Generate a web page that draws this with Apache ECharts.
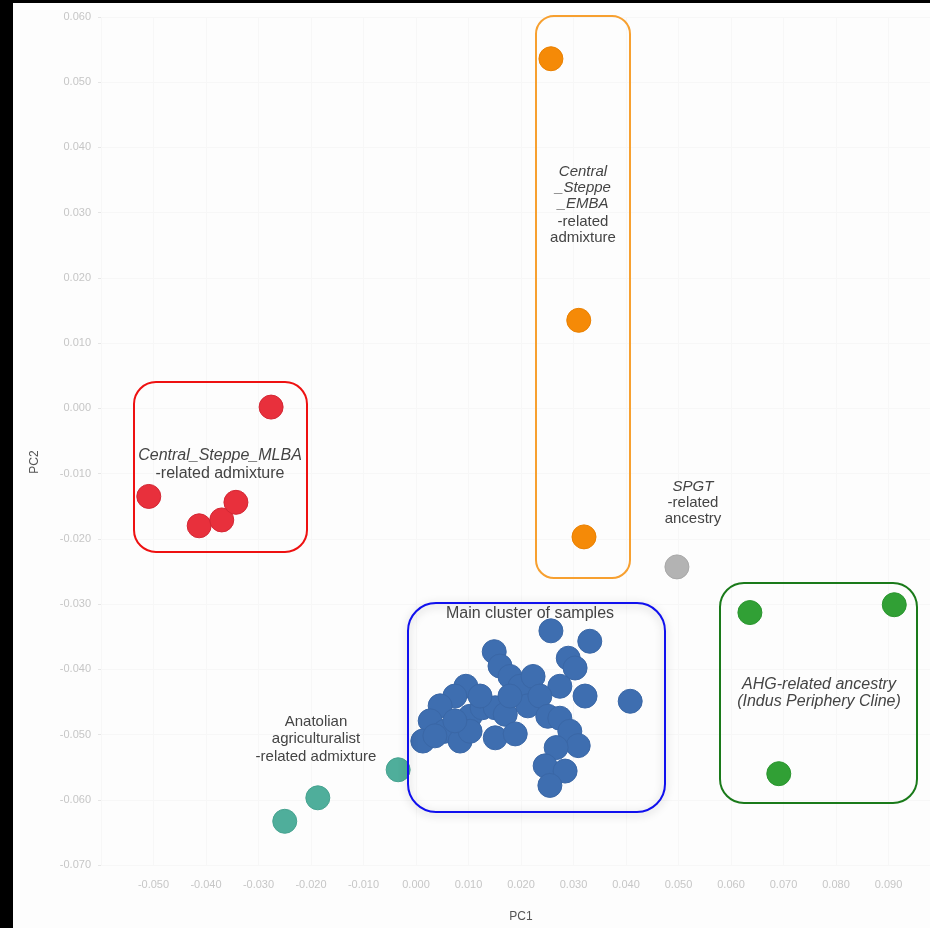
<!DOCTYPE html>
<html>
<head>
<meta charset="utf-8">
<script src="https://cdn.jsdelivr.net/npm/echarts@6/dist/echarts.min.js"></script>
<style>
  html, body { margin: 0; padding: 0; background: #000; overflow: hidden; width: 930px; height: 928px; }
  #chart { position: absolute; left: 13px; top: 3px; width: 960px; height: 925px; background: #fdfdfd; }
</style>
</head>
<body>
<div id="chart"></div>
<script>
// PCA coordinates [PC1, PC2] for each group of samples
const mainCluster = [
  [0.0257, -0.0341], [0.0331, -0.0357], [0.0149, -0.0373], [0.0160, -0.0395],
  [0.0179, -0.0411], [0.0198, -0.0426], [0.0223, -0.0411], [0.0290, -0.0383],
  [0.0303, -0.0398], [0.0274, -0.0426], [0.0322, -0.0441], [0.0408, -0.0449],
  [0.0095, -0.0426], [0.0074, -0.0441], [0.0046, -0.0456], [0.0027, -0.0479],
  [0.0013, -0.0510], [0.0055, -0.0495], [0.0084, -0.0510], [0.0103, -0.0472],
  [0.0126, -0.0459], [0.0151, -0.0459], [0.0170, -0.0469], [0.0151, -0.0505],
  [0.0189, -0.0499], [0.0213, -0.0456], [0.0236, -0.0441], [0.0251, -0.0472],
  [0.0274, -0.0475], [0.0293, -0.0495], [0.0309, -0.0517], [0.0267, -0.0520],
  [0.0246, -0.0548], [0.0284, -0.0556], [0.0255, -0.0578], [0.0103, -0.0495],
  [0.0074, -0.0479], [0.0179, -0.0441], [0.0122, -0.0441], [0.0036, -0.0502]
];
const steppeMLBA = [
  [-0.0276, 0.0002], [-0.0509, -0.0135], [-0.0413, -0.0180],
  [-0.0370, -0.0171], [-0.0343, -0.0144]
];
const steppeEMBA = [[0.0257, 0.0536], [0.0310, 0.0135], [0.0320, -0.0197]];
const spgt = [[0.0497, -0.0243]];
const ahg = [[0.0636, -0.0313], [0.0911, -0.0301], [0.0691, -0.0560]];
const anatolian = [[-0.0250, -0.0633], [-0.0187, -0.0597], [-0.0034, -0.0554]];

// Axis ranges
const xRange = { min: -0.06, max: 0.10, interval: 0.01 };
const yRange = { min: -0.07, max: 0.06, interval: 0.01 };

const font = '"Liberation Sans", Arial, sans-serif';

function scatter(name, data, color, border) {
  return {
    name, type: 'scatter', data, symbolSize: 24,
    itemStyle: { color, opacity: 1, borderColor: border, borderWidth: 1 },
    emphasis: { disabled: true }, z: 3
  };
}

function box(x, y, w, h, r, stroke, extra) {
  return Object.assign({
    type: 'rect', shape: { x, y, width: w, height: h, r },
    style: { fill: 'rgba(0,0,0,0)', stroke, lineWidth: 2 }, z: 10
  }, extra || {});
}

function label(text, x, y, italic, size) {
  return {
    type: 'text', z: 11,
    style: {
      text, x, y, align: 'center', verticalAlign: 'middle',
      font: (italic ? 'italic ' : '') + (size || 15) + 'px ' + font,
      fill: '#444'
    }
  };
}

const chart = echarts.init(document.getElementById('chart'));
chart.setOption({
  animation: false,
  backgroundColor: '#fdfdfd',
  grid: { left: 88, top: 14, width: 840, height: 853 },
  xAxis: {
    type: 'value', min: xRange.min, max: xRange.max, interval: xRange.interval,
    name: 'PC1', nameLocation: 'middle', nameGap: 46,
    nameTextStyle: { color: '#555', fontSize: 12, fontFamily: font },
    axisLine: { show: false, onZero: false }, axisTick: { show: false },
    axisLabel: { color: '#c6c6c6', fontSize: 11, fontFamily: font, margin: 14,
      showMinLabel: false, showMaxLabel: false,
      formatter: v => v.toFixed(3) },
    splitLine: { lineStyle: { color: '#f7f7f7' } }
  },
  yAxis: {
    type: 'value', min: yRange.min, max: yRange.max, interval: yRange.interval,
    axisLine: { show: false, onZero: false },
    axisTick: { show: true, length: 3, lineStyle: { color: '#e6e6e6' } },
    axisLabel: { color: '#c6c6c6', fontSize: 11, fontFamily: font, margin: 10,
      formatter: v => v.toFixed(3) },
    splitLine: { lineStyle: { color: '#f7f7f7' } }
  },
  series: [
    scatter('Main cluster', mainCluster, '#3e6eb0', '#3a67a6'),
    scatter('Central_Steppe_MLBA', steppeMLBA, '#e8303c', '#d42734'),
    scatter('Central_Steppe_EMBA', steppeEMBA, '#f58a07', '#ea8000'),
    scatter('SPGT', spgt, '#b3b3b3', '#a8a8a8'),
    scatter('AHG', ahg, '#31a035', '#2a952e'),
    scatter('Anatolian', anatolian, '#4fae9b', '#46a390')
  ],
  graphic: [
    box(121, 379, 173, 170, 22, '#ee1111'),
    box(523, 13, 94, 562, 18, '#f7a030'),
    box(395, 600, 257, 209, 28, '#1010ee',
      { style: { fill: 'rgba(0,0,0,0)', stroke: '#1010ee', lineWidth: 2,
        shadowBlur: 8, shadowColor: 'rgba(0,0,0,0.25)', shadowOffsetY: 2 } }),
    box(707, 580, 197, 220, 24, '#1a7a1a'),

    {
      type: 'text', z: 11, x: 22, y: 459, rotation: Math.PI / 2,
      style: { text: 'PC2', align: 'center', verticalAlign: 'middle',
        font: '12px ' + font, fill: '#555' }
    },

    label('Central_Steppe_MLBA', 207, 453, true, 16),
    label('-related admixture', 207, 471, false, 16),

    label('Central', 570, 169, true),
    label('_Steppe', 570, 185, true),
    label('_EMBA', 570, 201, true),
    label('-related', 570, 219, false),
    label('admixture', 570, 235, false),

    label('SPGT', 680, 484, true),
    label('-related', 680, 500, false),
    label('ancestry', 680, 516, false),

    label('AHG-related ancestry', 806, 682, true, 16),
    label('(Indus Periphery Cline)', 806, 699, true, 16),

    label('Main cluster of samples', 517, 611, false, 16),

    label('Anatolian', 303, 719, false),
    label('agriculturalist', 303, 736, false),
    label('-related admixture', 303, 754, false)
  ]
});
</script>
</body>
</html>
